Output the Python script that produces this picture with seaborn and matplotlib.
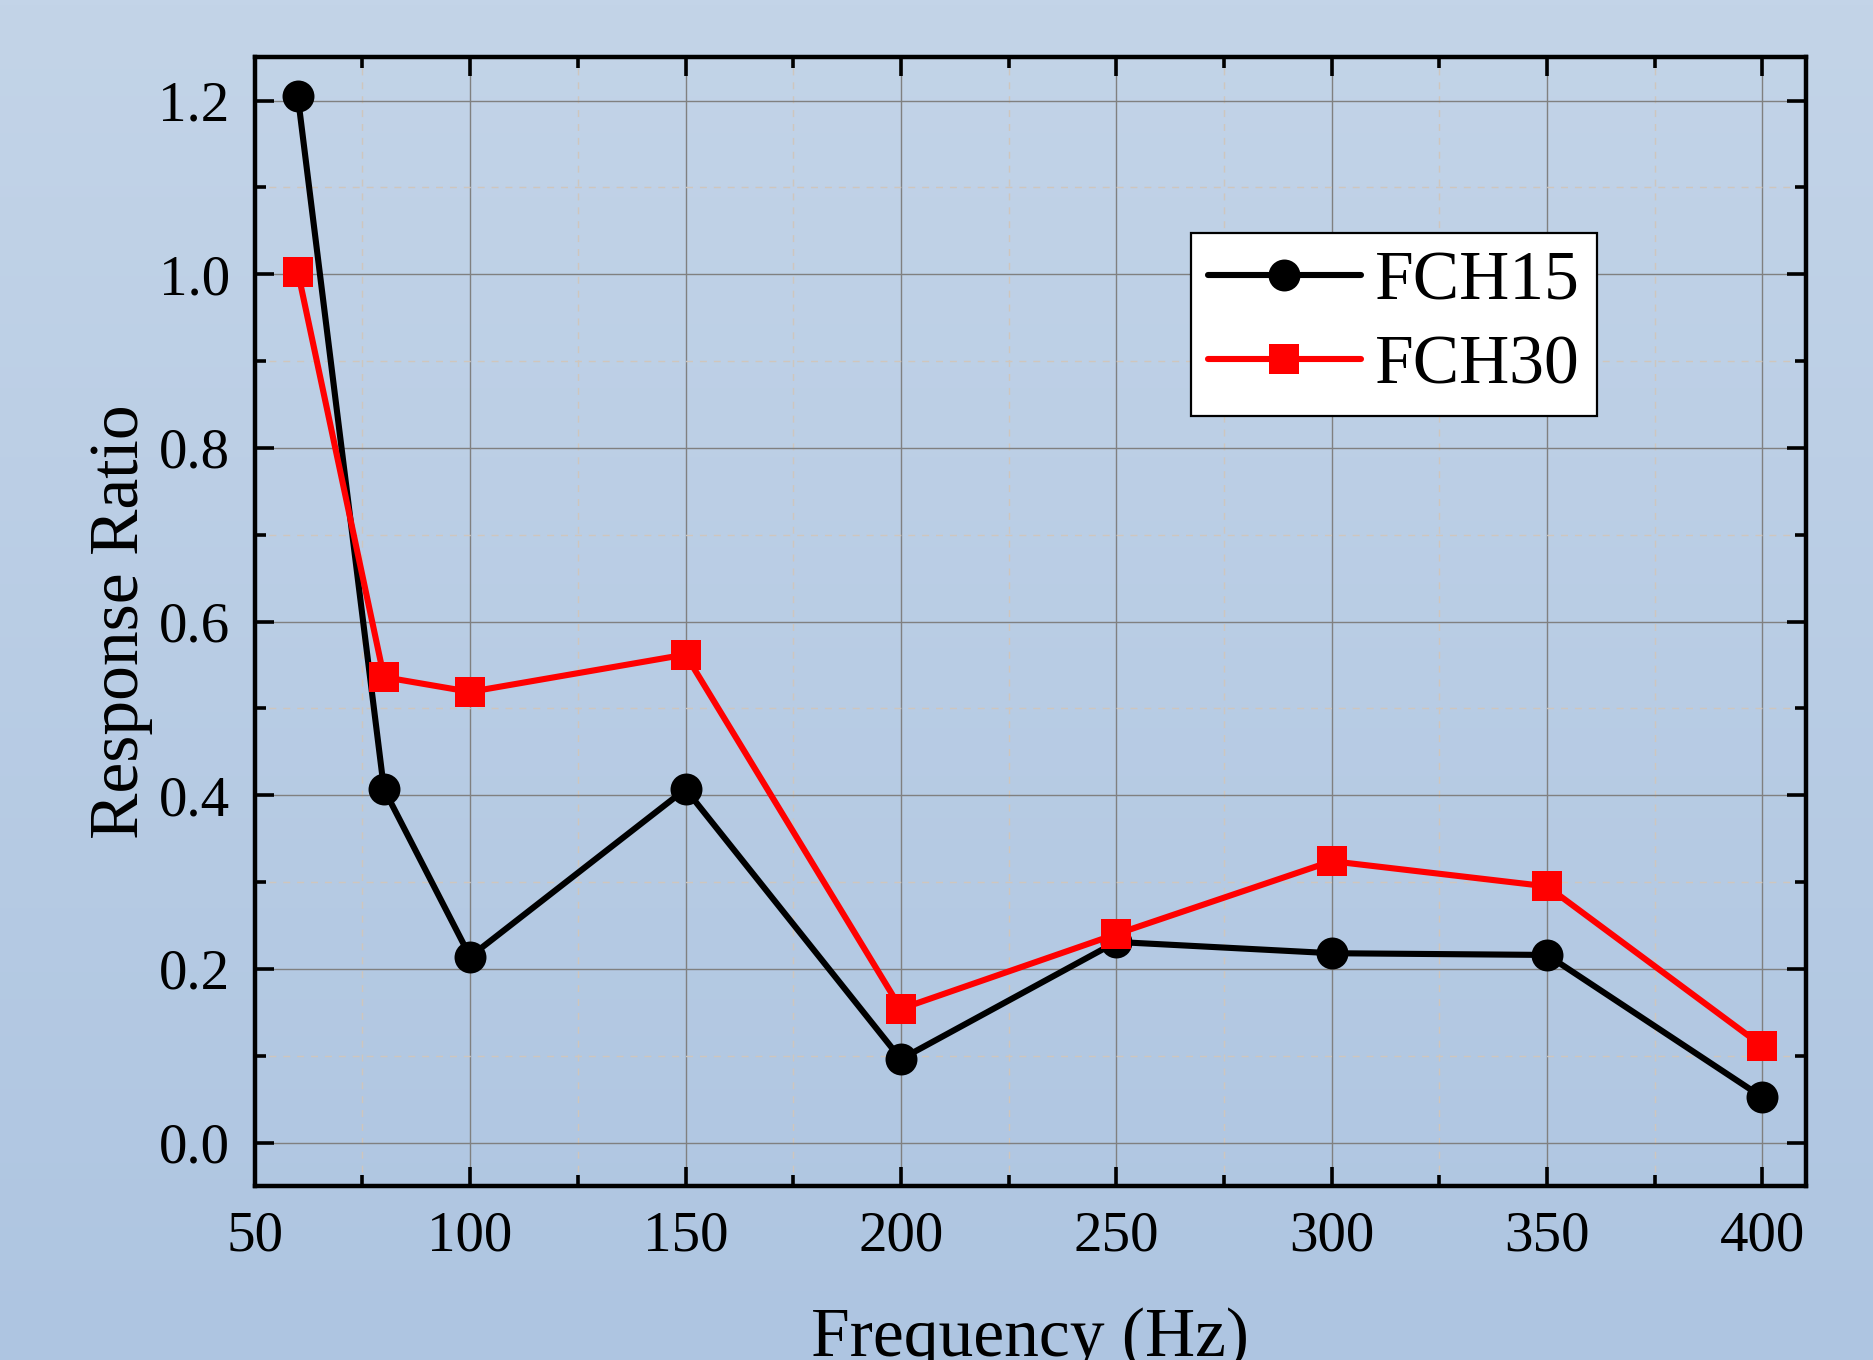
import numpy as np
import pandas as pd
import matplotlib
matplotlib.use("Agg")
import matplotlib.pyplot as plt
from matplotlib.ticker import MultipleLocator
import seaborn as sns

# ---- data ----
frequency = [60, 80, 100, 150, 200, 250, 300, 350, 400]
fch15 = [1.205, 0.407, 0.214, 0.407, 0.096, 0.231, 0.218, 0.216, 0.052]
fch30 = [1.003, 0.536, 0.519, 0.562, 0.154, 0.240, 0.324, 0.295, 0.111]
series_names = ["FCH15", "FCH30"]
x_ticks = [50, 100, 150, 200, 250, 300, 350, 400]
y_ticks = [0.0, 0.2, 0.4, 0.6, 0.8, 1.0, 1.2]

sns.set_theme(style="ticks")
plt.rcParams['font.family'] = ['Liberation Serif', 'DejaVu Serif']
plt.rcParams['text.color'] = 'black'
plt.rcParams['axes.labelcolor'] = 'black'
plt.rcParams['xtick.color'] = 'black'
plt.rcParams['ytick.color'] = 'black'

DPI = 200
fig = plt.figure(figsize=(1873 / DPI, 1360 / DPI), dpi=DPI)

# background gradient
bg_ax = fig.add_axes([0, 0, 1, 1], zorder=-10)
top = np.array([0xc3, 0xd4, 0xe8]) / 255
bot = np.array([0xae, 0xc5, 0xe1]) / 255
t = np.linspace(0, 1, 256)[:, None]
grad = (top[None, :] * (1 - t) + bot[None, :] * t)[:, None, :]
bg_ax.imshow(grad, aspect='auto', extent=[0, 1, 0, 1])
bg_ax.axis('off')

ax = fig.add_axes([0.136, 0.128, 0.828, 0.830])
ax.set_facecolor('none')

df = pd.DataFrame({"Frequency": frequency * 2,
                   "Ratio": fch15 + fch30,
                   "Series": [series_names[0]] * len(frequency) + [series_names[1]] * len(frequency)})

sns.lineplot(data=df[df.Series == "FCH15"], x="Frequency", y="Ratio", ax=ax,
             color="black", lw=2.2, marker="o", markersize=11.5,
             markeredgecolor="black", markeredgewidth=0, label="FCH15", zorder=4)
sns.lineplot(data=df[df.Series == "FCH30"], x="Frequency", y="Ratio", ax=ax,
             color="#ff0000", lw=2.2, marker="s", markersize=10.5,
             markeredgecolor="#ff0000", markeredgewidth=0, label="FCH30", zorder=5)

ax.set_xlim(50, 410)
ax.set_ylim(-0.05, 1.25)
ax.set_xticks(x_ticks)
ax.set_yticks(y_ticks)
ax.set_yticklabels([f"{v:.1f}" for v in y_ticks])
ax.xaxis.set_minor_locator(MultipleLocator(25))
ax.yaxis.set_minor_locator(MultipleLocator(0.1))

ax.grid(which='major', color='#808080', lw=0.5, ls='-', zorder=0)
ax.grid(which='minor', color='#cfc6bd', lw=0.5, ls=(0, (5, 5)), zorder=0)
ax.set_axisbelow(True)

for s in ax.spines.values():
    s.set_visible(True)
    s.set_linewidth(1.6)
    s.set_color('black')

ax.tick_params(which='major', direction='in', length=7, width=1.3,
               top=True, right=True, labelsize=20.5, pad=9, colors='black')
ax.tick_params(which='minor', direction='in', length=3.8, width=1.3,
               top=True, right=True)

ax.set_xlabel("Frequency (Hz)", fontsize=25, labelpad=16, color='black')
ax.set_ylabel("Response Ratio", fontsize=25, labelpad=2, color='black')

leg = ax.legend(loc='upper left', bbox_to_anchor=(0.6035, 0.844), fontsize=25,
                frameon=True, fancybox=False, framealpha=1, edgecolor='black',
                handlelength=2.2, handletextpad=0.2, labelspacing=0.3,
                borderpad=0.25, borderaxespad=0)
leg.get_frame().set_linewidth(0.8)
for txt in leg.get_texts():
    txt.set_color('black')

fig.savefig("out.png", dpi=DPI)
